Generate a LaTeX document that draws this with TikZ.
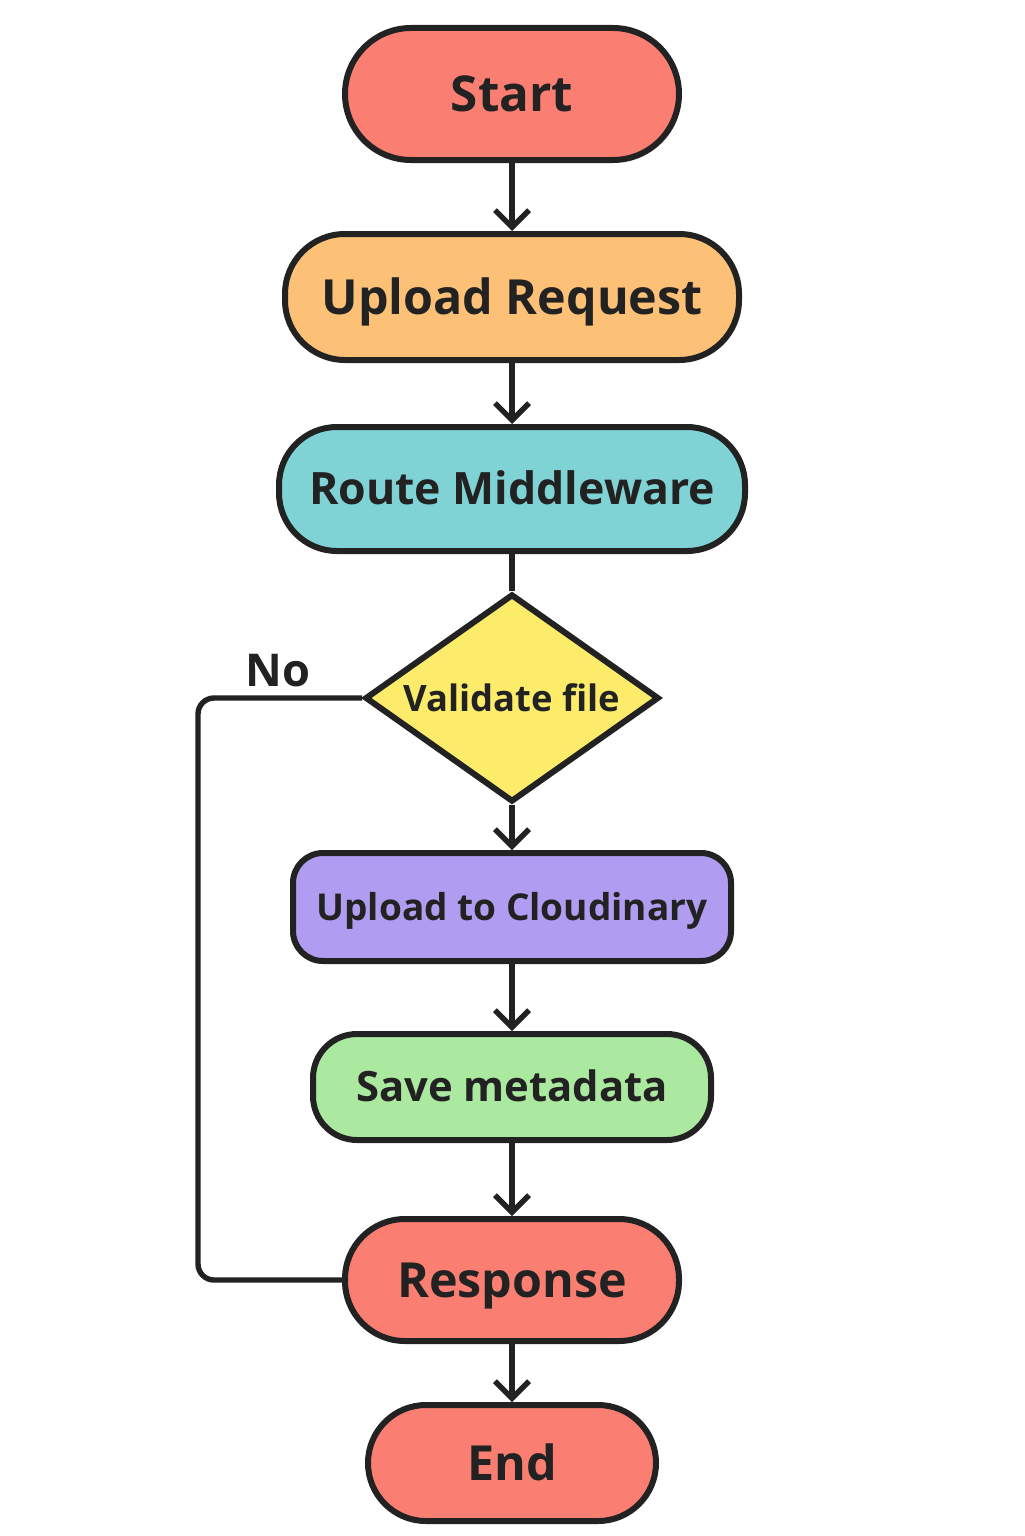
\documentclass[tikz,border=0pt]{standalone}
\usepackage{fontspec}
\setmainfont{Open Sans}
\usetikzlibrary{shapes.geometric,arrows.meta}
\definecolor{ink}{HTML}{222222}
\definecolor{salmon}{HTML}{FA7F72}
\definecolor{orangec}{HTML}{FDC077}
\definecolor{tealc}{HTML}{7FD3D4}
\definecolor{yellowc}{HTML}{FCEC6A}
\definecolor{purplec}{HTML}{B09CF0}
\definecolor{greenc}{HTML}{ACE9A0}
\tikzset{
  fs/.style={font=\bfseries\fontsize{#1}{#1}\selectfont, text height={0.715*#1 pt}, text depth=0pt},
  box/.style={draw=ink, line width=3pt, inner sep=0pt, text=ink},
  dec/.style={draw=ink, line width=3pt, diamond, aspect=1.41, inner sep=0pt, text=ink, fill=yellowc},
  conn/.style={draw=ink, line width=2.7pt},
  arr/.style={conn, -{Straight Barb[length=8.5pt,width=17pt,line width=2.7pt]}},
}
\begin{document}
\begin{tikzpicture}[x=0.5pt,y=-0.5pt]
\useasboundingbox (0,0) rectangle (1024,1536);
\node[box, fill=salmon, minimum width=167pt, minimum height=66pt, rounded corners=33pt, fs=24.7] (start) at (512,94) {Start};
\node[box, fill=orangec, minimum width=227pt, minimum height=63pt, rounded corners=30pt, fs=24.2] (upreq) at (512,297) {Upload Request};
\node[box, fill=tealc, minimum width=233pt, minimum height=62pt, rounded corners=29pt, fs=22.3] (route) at (512,489) {Route Middleware};
\node[dec, minimum width=147pt, minimum height=104pt, fs=18.2] (val) at (512,698) {Validate file};
\node[box, fill=purplec, minimum width=219pt, minimum height=54pt, rounded corners=15pt, fs=18.5] (cloud) at (512,907) {Upload to Cloudinary};
\node[box, fill=greenc, minimum width=199pt, minimum height=53pt, rounded corners=22pt, fs=20.9] (save) at (512,1087) {Save metadata};
\node[box, fill=salmon, minimum width=167pt, minimum height=61pt, rounded corners=30pt, fs=24.2] (resp) at (512,1280) {Response};
\node[box, fill=salmon, minimum width=144pt, minimum height=58pt, rounded corners=29pt, fs=24.2] (end) at (512,1463) {End};
\node[fs=22.6, text=ink] (no) at (278,670) {No};
\coordinate (nl) at (198,698);
\draw[arr] (start) -- (upreq);
\draw[arr] (upreq) -- (route);
\draw[conn] (route) -- (val);
\draw[arr] (val) -- (cloud);
\draw[arr] (cloud) -- (save);
\draw[arr] (save) -- (resp);
\draw[arr] (resp) -- (end);
\draw[conn, rounded corners=8pt] (val.west) -- (nl) |- (resp.west);
\end{tikzpicture}
\end{document}
